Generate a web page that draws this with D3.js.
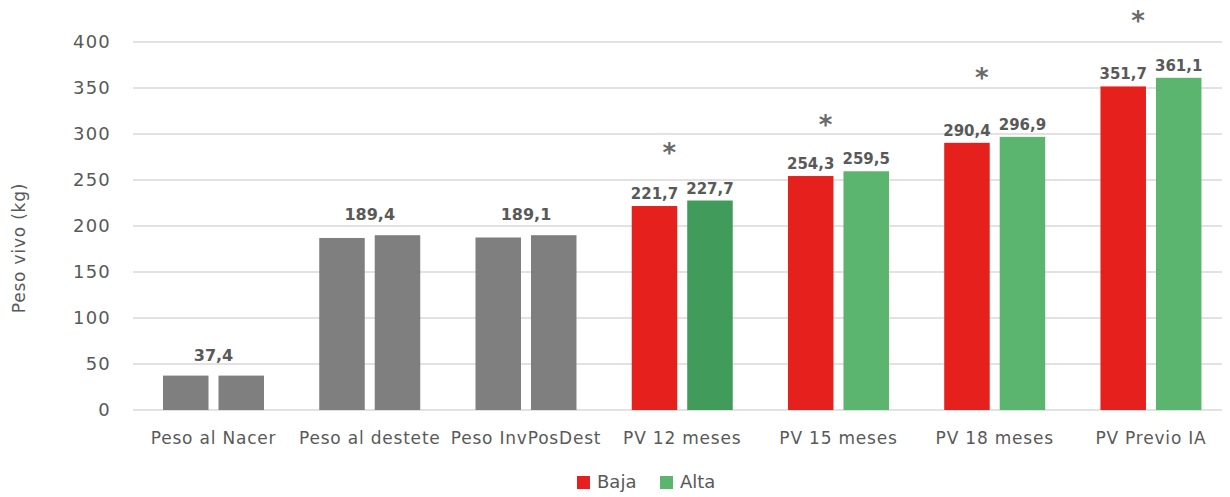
<!DOCTYPE html>
<html>
<head>
<meta charset="utf-8">
<script src="https://cdn.jsdelivr.net/npm/d3@7"></script>
<style>
  body { margin: 0; background: #fff; }
  svg { display: block; }
  text { font-family: "DejaVu Sans", sans-serif; }
</style>
</head>
<body>
<svg id="chart" width="1230" height="497"></svg>
<script>
// ---- data ----
const categories = ["Peso al Nacer", "Peso al destete", "Peso InvPosDest", "PV 12 meses", "PV 15 meses", "PV 18 meses", "PV Previo IA"];
const seriesNames = ["Baja", "Alta"];
const bajaValues = [37.4, 187.0, 187.5, 221.7, 254.3, 290.4, 351.7];
const altaValues = [37.4, 190.0, 190.0, 227.7, 259.5, 296.9, 361.1];
// labels: gray groups have a single shared label; others one per bar
const groupLabels = ["37,4", "189,4", "189,1", null, null, null, null];
const bajaLabels = [null, null, null, "221,7", "254,3", "290,4", "351,7"];
const altaLabels = [null, null, null, "227,7", "259,5", "296,9", "361,1"];
const starValues = [null, null, null, 283, 313, 364, 426];
const yTicks = [0, 50, 100, 150, 200, 250, 300, 350, 400];

// ---- styles ----
const gray = "#7f7f7f", red = "#e6211d", green = "#5cb56f", darkGreen = "#419b5b";
const textColor = "#595959";
const font = "'DejaVu Sans', sans-serif";

const svg = d3.select("#chart");
const y = d3.scaleLinear().domain([0, 400]).range([410, 42]);
const x = d3.scaleBand().domain(categories).range([135.4, 1229.1]);
const xi = d3.scaleBand().domain(seriesNames).range([27.6, 128.6]).paddingInner(0.18);

// gridlines
svg.append("g").selectAll("line").data(yTicks).join("line")
  .attr("x1", 133).attr("x2", 1222)
  .attr("y1", d => y(d)).attr("y2", d => y(d))
  .attr("stroke", "#d9d9d9").attr("stroke-width", 1.3);

// y axis labels via d3 axis
const yAxis = svg.append("g").attr("transform", "translate(119,0)")
  .call(d3.axisLeft(y).tickValues(yTicks).tickSize(0).tickPadding(8));
yAxis.select(".domain").remove();
yAxis.selectAll("text").attr("font-size", 18).attr("letter-spacing", 1.2)
  .attr("fill", textColor).attr("font-family", font);

// y title
svg.append("text").attr("transform", "translate(20,248) rotate(-90)")
  .attr("text-anchor", "middle").attr("dominant-baseline", "middle")
  .attr("font-size", 17).attr("letter-spacing", 0.8)
  .attr("fill", textColor).text("Peso vivo (kg)");

// bars
const rows = categories.map((c, i) => ({ c, i, baja: bajaValues[i], alta: altaValues[i] }));
const g = svg.append("g").selectAll("g").data(rows).join("g")
  .attr("transform", d => `translate(${x(d.c)},0)`);

function colorFor(i, s) {
  if (i < 3) return gray;
  if (s === "Baja") return red;
  return i === 3 ? darkGreen : green;
}

g.selectAll("rect").data(d => seriesNames.map(s => ({ s, i: d.i, v: s === "Baja" ? d.baja : d.alta })))
  .join("rect")
  .attr("x", d => xi(d.s)).attr("width", xi.bandwidth())
  .attr("y", d => y(d.v)).attr("height", d => y(0) - y(d.v))
  .attr("fill", d => colorFor(d.i, d.s));

// group labels
g.filter(d => groupLabels[d.i]).append("text")
  .attr("x", (xi("Baja") + xi("Alta") + xi.bandwidth()) / 2)
  .attr("y", d => y(Math.max(d.baja, d.alta)) - 15)
  .attr("text-anchor", "middle").attr("font-size", 16).attr("font-weight", "bold")
  .attr("fill", textColor).text(d => groupLabels[d.i]);

// per-bar labels
g.filter(d => bajaLabels[d.i]).each(function(d) {
  const sel = d3.select(this);
  sel.append("text").attr("x", xi("Baja") + xi.bandwidth() / 2).attr("y", y(d.baja) - 7)
    .attr("text-anchor", "middle").attr("font-size", 15).attr("font-weight", "bold")
    .attr("fill", textColor).text(bajaLabels[d.i]);
  sel.append("text").attr("x", xi("Alta") + xi.bandwidth() / 2).attr("y", y(d.alta) - 7)
    .attr("text-anchor", "middle").attr("font-size", 15).attr("font-weight", "bold")
    .attr("fill", textColor).text(altaLabels[d.i]);
});

// asterisks
g.filter(d => starValues[d.i] != null).append("text")
  .attr("x", xi("Baja") + xi.bandwidth() - 8)
  .attr("y", d => y(starValues[d.i]) + 12)
  .attr("text-anchor", "middle").attr("font-size", 26).attr("font-weight", "bold")
  .attr("fill", "#6a6a6a").text("*");

// x axis labels
const xAxis = svg.append("g").attr("transform", "translate(0,410)")
  .call(d3.axisBottom(x).tickSize(0).tickPadding(22));
xAxis.select(".domain").remove();
xAxis.selectAll("text").attr("font-size", 17).attr("letter-spacing", 0.8)
  .attr("fill", textColor).attr("font-family", font);

// legend
const legend = svg.append("g").attr("transform", "translate(577,476)");
const lg = legend.selectAll("g").data(seriesNames).join("g")
  .attr("transform", (d, i) => `translate(${i * 83},0)`);
lg.append("rect").attr("width", 13).attr("height", 13)
  .attr("fill", (d, i) => i === 0 ? red : green);
lg.append("text").attr("x", 20).attr("y", 7).attr("dominant-baseline", "middle")
  .attr("font-size", 18).attr("fill", textColor).text(d => d);
</script>
</body>
</html>
